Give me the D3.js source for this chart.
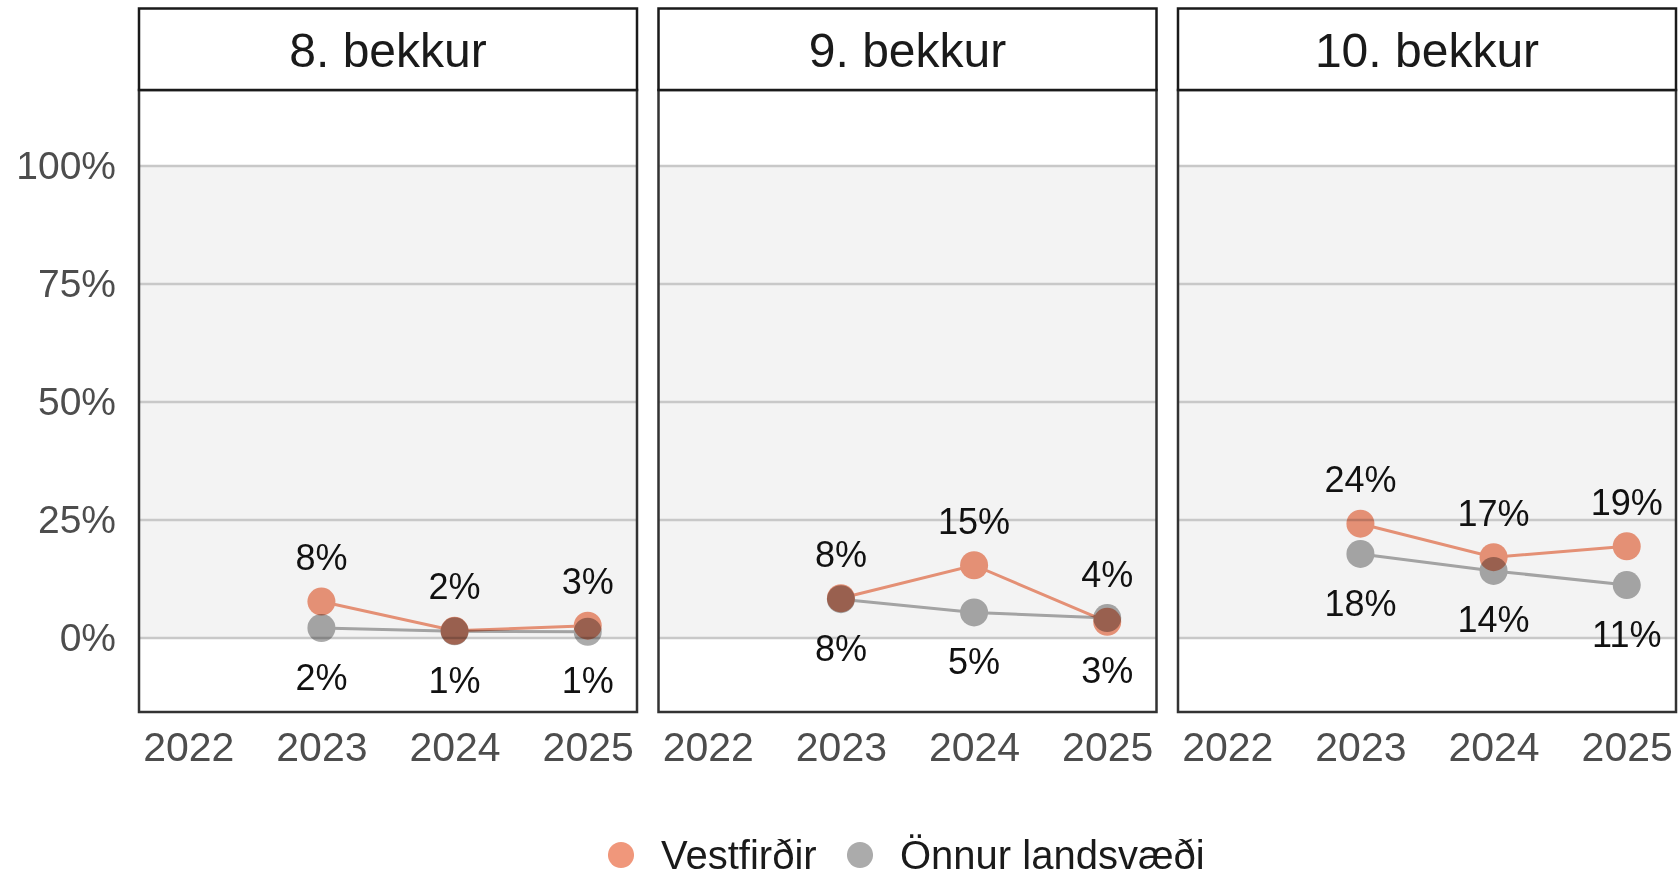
<!DOCTYPE html>
<html>
<head>
<meta charset="utf-8">
<script src="https://cdn.jsdelivr.net/npm/d3@7"></script>
<style>
  body { margin: 0; background: #fff; }
  svg { display: block; font-family: "Liberation Sans", Arial, sans-serif; }
</style>
</head>
<body>
<svg id="chart" width="1680" height="878"></svg>
<script>
// data
var grades = ["8. bekkur", "9. bekkur", "10. bekkur"];
var years = [2022, 2023, 2024, 2025];
var dataYears = [2023, 2024, 2025];
var seriesNames = ["Vestfirðir", "Önnur landsvæði"];
var seriesColors = ["#f0977b", "#ababab"];
var vestfirdir = [[0.077, 0.015, 0.026], [0.084, 0.154, 0.034], [0.242, 0.171, 0.194]];
var onnur = [[0.021, 0.014, 0.013], [0.082, 0.054, 0.042], [0.178, 0.142, 0.112]];
var yTicks = [0, 0.25, 0.5, 0.75, 1];

var svg = d3.select("#chart");
var fmt = d3.format(".0%");

var left = 139, gap = 21.5, panelW = 498;
var stripTop = 8.5, panelTop = 90, panelBottom = 712;

var x = d3.scalePoint().domain(years).range([0, panelW]).padding(0.37);
var y = d3.scaleLinear().domain([-0.157, 1.161]).range([panelBottom, panelTop]);

var line = d3.line()
  .x(function(d){ return x(d.year); })
  .y(function(d){ return y(d.value); });

grades.forEach(function(grade, p){
  var g = svg.append("g").attr("transform", "translate(" + (left + p * (panelW + gap)) + ",0)");

  // panel background
  g.append("rect").attr("x", 0).attr("y", panelTop).attr("width", panelW)
    .attr("height", panelBottom - panelTop).attr("fill", "#fff");
  g.append("rect").attr("x", 0).attr("y", y(1)).attr("width", panelW)
    .attr("height", y(0) - y(1)).attr("fill", "#f3f3f3");

  g.selectAll(".grid").data(yTicks).join("line")
    .attr("x1", 0).attr("x2", panelW)
    .attr("y1", function(d){ return y(d); }).attr("y2", function(d){ return y(d); })
    .attr("stroke", "#c8c8c8").attr("stroke-width", 2.5);

  var series = [vestfirdir[p], onnur[p]].map(function(vals, s){
    return {
      name: seriesNames[s], color: seriesColors[s],
      values: vals.map(function(v, i){ return {year: dataYears[i], value: v}; })
    };
  });

  var marks = g.append("g").style("mix-blend-mode", "multiply");
  series.forEach(function(s){
    var sg = marks.append("g").style("mix-blend-mode", "multiply");
    sg.append("path").datum(s.values)
      .attr("d", line).attr("fill", "none")
      .attr("stroke", s.color).attr("stroke-width", 3);
    sg.selectAll("circle").data(s.values).join("circle")
      .attr("cx", function(d){ return x(d.year); })
      .attr("cy", function(d){ return y(d.value); })
      .attr("r", 14).attr("fill", s.color);
  });

  // value labels: higher value above, lower below
  dataYears.forEach(function(yr, i){
    var a = vestfirdir[p][i], b = onnur[p][i];
    var hi = Math.max(a, b), lo = Math.min(a, b);
    g.append("text").attr("x", x(yr)).attr("y", y(hi) - 44).attr("dy", "0.35em")
      .attr("text-anchor", "middle").attr("font-size", 36).attr("fill", "#111")
      .text(fmt(hi));
    g.append("text").attr("x", x(yr)).attr("y", y(lo) + 49).attr("dy", "0.35em")
      .attr("text-anchor", "middle").attr("font-size", 36).attr("fill", "#111")
      .text(fmt(lo));
  });

  // frame
  g.append("rect").attr("x", 0).attr("y", panelTop).attr("width", panelW)
    .attr("height", panelBottom - panelTop).attr("fill", "none")
    .attr("stroke", "#333").attr("stroke-width", 2.5);

  // strip
  g.append("rect").attr("x", 0).attr("y", stripTop).attr("width", panelW)
    .attr("height", panelTop - stripTop).attr("fill", "#fff")
    .attr("stroke", "#1a1a1a").attr("stroke-width", 2.5);
  g.append("text").attr("x", panelW / 2).attr("y", (stripTop + panelTop) / 2)
    .attr("dy", "0.36em").attr("text-anchor", "middle")
    .attr("font-size", 48).attr("fill", "#1a1a1a").text(grade);

  // x axis
  var xa = g.append("g").attr("transform", "translate(0," + panelBottom + ")")
    .call(d3.axisBottom(x).tickSize(0).tickPadding(20).tickFormat(d3.format("d")));
  xa.select(".domain").remove();
  xa.selectAll("text").attr("font-size", 41).attr("fill", "#4d4d4d")
    .attr("font-family", "Liberation Sans, Arial, sans-serif");

  if (p === 0) {
    var ya = g.append("g")
      .call(d3.axisLeft(y).tickValues(yTicks).tickSize(0).tickPadding(23).tickFormat(fmt));
    ya.select(".domain").remove();
    ya.selectAll("text").attr("font-size", 39).attr("fill", "#4d4d4d")
      .attr("font-family", "Liberation Sans, Arial, sans-serif");
  }
});

// legend
var legendX = [621, 860];
var leg = svg.append("g").attr("transform", "translate(0,855)");
seriesNames.forEach(function(name, s){
  var lg = leg.append("g").attr("transform", "translate(" + legendX[s] + ",0)");
  var key = lg.append("g").style("mix-blend-mode", "multiply");
  key.append("line").attr("x1", -13).attr("x2", 13).attr("y1", 0).attr("y2", 0)
    .attr("stroke", seriesColors[s]).attr("stroke-width", 3);
  key.append("circle").attr("r", 13).attr("fill", seriesColors[s]);
  lg.append("text").attr("x", 40).attr("dy", "0.35em").attr("font-size", 40)
    .attr("fill", "#1a1a1a").text(name);
});
</script>
</body>
</html>
